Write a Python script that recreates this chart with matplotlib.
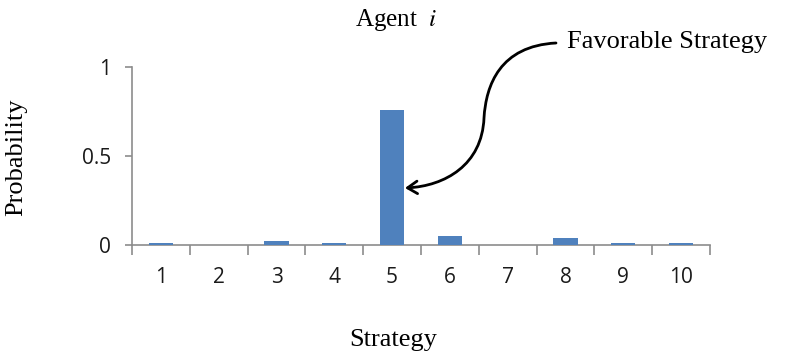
import matplotlib
matplotlib.use("Agg")
import matplotlib.pyplot as plt
from matplotlib.path import Path
from matplotlib.patches import FancyArrowPatch

plt.rcParams["mathtext.fontset"] = "stix"

# strategy probabilities for agent i
strategies = [1, 2, 3, 4, 5, 6, 7, 8, 9, 10]
probability = [0.011, 0.0, 0.022, 0.011, 0.76, 0.05, 0.0, 0.04, 0.011, 0.011]
yticks = [0, 0.5, 1]
ytick_labels = ["0", "0.5", "1"]

W, H = 787, 356
fig = plt.figure(figsize=(W / 100, H / 100), dpi=100)
ax = fig.add_axes([132 / W, 1 - 245 / H, (710 - 132) / W, (245 - 67) / H])

ax.bar(strategies, probability, width=0.42, color="#4F81BD", zorder=3)

axis_col = "#8C8C8C"
ax.set_xlim(0.5, 10.5)
ax.set_ylim(0, 1)
for s in ("top", "right"):
    ax.spines[s].set_visible(False)
for s in ("left", "bottom"):
    ax.spines[s].set_color(axis_col)
    ax.spines[s].set_linewidth(1.2)

tick_font = dict(fontsize=15, family="Open Sans", color="#1a1a1a")
# x ticks sit between categories, labels centered under the bars
ax.set_xticks([x + 0.5 for x in [0] + strategies])
ax.set_xticklabels([])
ax.set_xticks(strategies, minor=True)
ax.set_xticklabels([str(s) for s in strategies], minor=True, **tick_font)
ax.tick_params(axis="x", which="major", length=7, color=axis_col, width=1.2)
ax.tick_params(axis="x", which="minor", length=0, pad=16)
ax.set_yticks(yticks)
ax.set_yticklabels(ytick_labels, **tick_font)
ax.tick_params(axis="y", length=5, color=axis_col, width=1.2, pad=10)


def px(x, y):
    return (x / W, 1 - y / H)


serif = "Liberation Serif"
fig.text(*px(396, 20), "Agent  $i$", ha="center", va="center",
         fontsize=18, family=serif)
fig.text(*px(393, 340), "Strategy", ha="center", va="center",
         fontsize=19, family=serif)
fig.text(*px(16, 157), "Probability", ha="center", va="center",
         rotation=90, fontsize=19, family=serif)
fig.text(*px(567, 42), "Favorable Strategy", ha="left", va="center",
         fontsize=19, family=serif)

# curved pointer to the dominant strategy
verts = [px(556, 43), px(500, 46), px(486, 85), px(484, 118),
         px(482, 165), px(445, 186), px(405, 188)]
codes = [Path.MOVETO] + [Path.CURVE4] * 6
arrow = FancyArrowPatch(path=Path(verts, codes), transform=fig.transFigure,
                        arrowstyle="->,head_length=7,head_width=4.5",
                        color="black", lw=2.0)
fig.patches.append(arrow)

fig.savefig("out.png", dpi=100)
